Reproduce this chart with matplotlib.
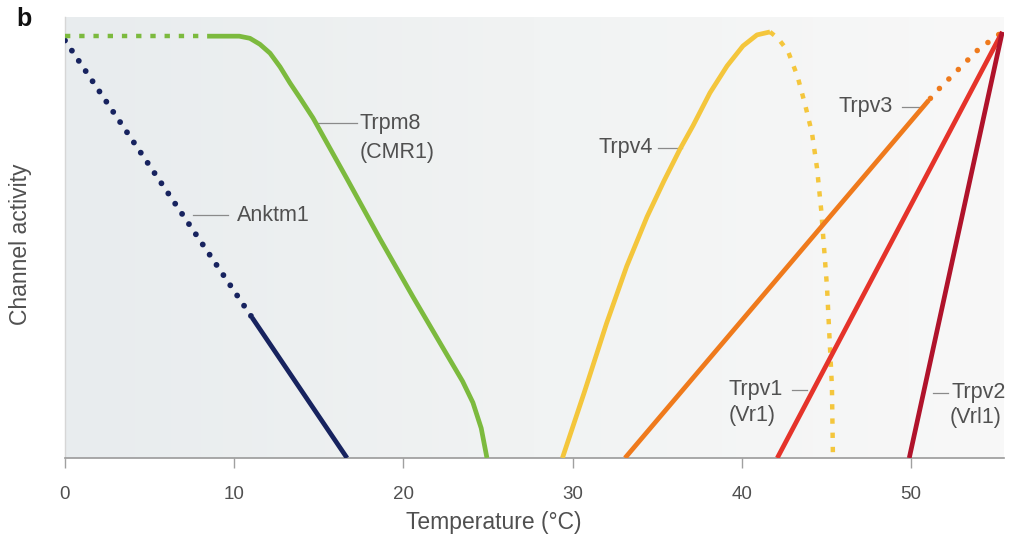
import numpy as np
import matplotlib
matplotlib.use("Agg")
import matplotlib.pyplot as plt

plt.rcParams['font.family'] = ['Liberation Sans', 'DejaVu Sans']

# channel activity curves (temperature in degC, activity 0..1)
anktm1_dot_x = [0.0, 11.05]
anktm1_dot_y = [0.98, 0.33]
anktm1_x = [11.05, 16.67]
anktm1_y = [0.33, 0.0]

trpm8_dot_x = [0.0, 8.4]
trpm8_dot_y = [0.99, 0.99]
trpm8_x = [8.4, 10.3, 10.93, 11.52, 12.12, 12.71, 13.3, 13.89, 14.66, 16.67, 18.62,
           20.57, 22.58, 23.5, 24.11, 24.6, 24.94]
trpm8_y = [0.99, 0.99, 0.985, 0.971, 0.95, 0.918, 0.88, 0.845, 0.798, 0.655, 0.514,
           0.378, 0.242, 0.18, 0.13, 0.07, 0.0]

trpv4_x = [29.4, 30.7, 32.0, 33.2, 34.4, 35.4, 36.35, 37.12, 38.12, 39.13, 40.07, 40.9, 41.67]
trpv4_y = [0.0, 0.155, 0.315, 0.45, 0.566, 0.65, 0.725, 0.78, 0.857, 0.92, 0.967, 0.993, 1.0]
trpv4_dot_x = [41.67, 42.14, 42.73, 43.3, 43.74, 44.15, 44.45, 44.7, 45.04, 45.33, 45.39]
trpv4_dot_y = [1.0, 0.985, 0.955, 0.895, 0.83, 0.763, 0.68, 0.58, 0.40, 0.167, 0.0]

trpv3_x = [33.1, 51.06]
trpv3_y = [0.0, 0.84]
trpv3_dot_x = [51.06, 51.6, 53.96, 55.4]
trpv3_dot_y = [0.84, 0.864, 0.958, 1.0]

trpv1_x = [42.1, 55.4]
trpv1_y = [0.0, 1.0]

trpv2_x = [49.9, 55.4]
trpv2_y = [0.0, 1.0]

xticks = [0, 10, 20, 30, 40, 50]

# label text, x, y, alignment ; leader lines as (x0, x1, y)
labels = [
    ('Anktm1', 10.17, 0.570, 'left'),
    ('Trpm8', 17.43, 0.786, 'left'),
    ('(CMR1)', 17.43, 0.718, 'left'),
    ('Trpv4', 34.75, 0.728, 'right'),
    ('Trpv3', 48.94, 0.824, 'right'),
    ('Trpv1', 42.43, 0.160, 'right'),
    ('(Vr1)', 39.2, 0.100, 'left'),
    ('Trpv2', 52.42, 0.153, 'left'),
    ('(Vrl1)', 52.3, 0.094, 'left'),
]
leaders = [
    (7.57, 9.63, 0.570),
    (14.9, 17.26, 0.786),
    (35.05, 36.47, 0.728),
    (49.47, 50.53, 0.824),
    (42.97, 43.85, 0.160),
    (51.3, 52.19, 0.153),
]

navy = '#17235f'
green = '#7cba3e'
yellow = '#f4c63c'
orange = '#ef7a1c'
red = '#e5332a'
darkred = '#b0132b'
txt = '#505050'


def main():
    fig = plt.figure(figsize=(10.1, 5.36), dpi=100)
    ax = fig.add_axes([65 / 1010, 78 / 536, 939 / 1010, 441 / 536])
    ax.set_xlim(0, 55.5)
    ax.set_ylim(0, 1.035)

    # soft grey background, a bit darker on the left
    grad = np.linspace(0, 1, 256).reshape(1, -1)
    cmap = matplotlib.colors.LinearSegmentedColormap.from_list('bg', ['#e8ecee', '#f1f3f3', '#f8f8f8'])
    ax.imshow(grad, extent=[0, 55.5, 0, 1.035], aspect='auto', cmap=cmap, zorder=0)

    lw = 3.4
    ax.plot(anktm1_dot_x, anktm1_dot_y, color=navy, lw=4.2, linestyle=(0, (0.01, 2.1)),
            dash_capstyle='round', zorder=3)
    ax.plot(anktm1_x, anktm1_y, color=navy, lw=lw, solid_capstyle='butt', zorder=3)

    ax.plot(trpm8_dot_x, trpm8_dot_y, color=green, lw=3.2, linestyle=(0, (1.2, 2.0)), zorder=3)
    ax.plot(trpm8_x, trpm8_y, color=green, lw=lw, solid_capstyle='butt',
            solid_joinstyle='round', zorder=3)

    ax.plot(trpv4_x, trpv4_y, color=yellow, lw=lw, solid_capstyle='butt',
            solid_joinstyle='round', zorder=3)
    ax.plot(trpv4_dot_x, trpv4_dot_y, color=yellow, lw=3.2, linestyle=(0, (1.2, 2.0)), zorder=3)

    ax.plot(trpv3_x, trpv3_y, color=orange, lw=lw, solid_capstyle='butt', zorder=4)
    ax.plot(trpv3_dot_x, trpv3_dot_y, color=orange, lw=4.0, linestyle=(2, (0.01, 2.4)),
            dash_capstyle='round', zorder=4)

    ax.plot(trpv1_x, trpv1_y, color=red, lw=lw, solid_capstyle='butt', zorder=5)
    ax.plot(trpv2_x, trpv2_y, color=darkred, lw=lw, solid_capstyle='butt', zorder=5)

    # labels with short leader lines
    for x0, x1, y in leaders:
        ax.plot([x0, x1], [y, y], color='#8a8a8a', lw=0.9, zorder=2)
    for s, x, y, ha in labels:
        ax.text(x, y, s, fontsize=15.5, color=txt, va='center', ha=ha)

    ax.set_xticks(xticks)
    ax.set_yticks([])
    ax.tick_params(axis='x', direction='out', length=7, width=1, color='#a0a0a0',
                   labelsize=13.5, labelcolor=txt, pad=13)
    for s in ['top', 'right']:
        ax.spines[s].set_visible(False)
    ax.spines['bottom'].set_color('#9a9a9a')
    ax.spines['bottom'].set_linewidth(1.2)
    ax.spines['left'].set_color('#d6d6d6')
    ax.spines['left'].set_linewidth(1.0)

    fig.text(494 / 1010, 1 - 523 / 536, 'Temperature (°C)', fontsize=16.5, color=txt,
             ha='center', va='center')
    fig.text(21 / 1010, 1 - 244 / 536, 'Channel activity', fontsize=16.5, color=txt,
             ha='center', va='center', rotation=90)
    fig.text(24 / 1010, 1 - 19 / 536, 'b', fontsize=18, fontweight='bold', color='#111111',
             va='center', ha='center')

    fig.savefig('out.png', dpi=100)


if __name__ == "__main__":
    main()
